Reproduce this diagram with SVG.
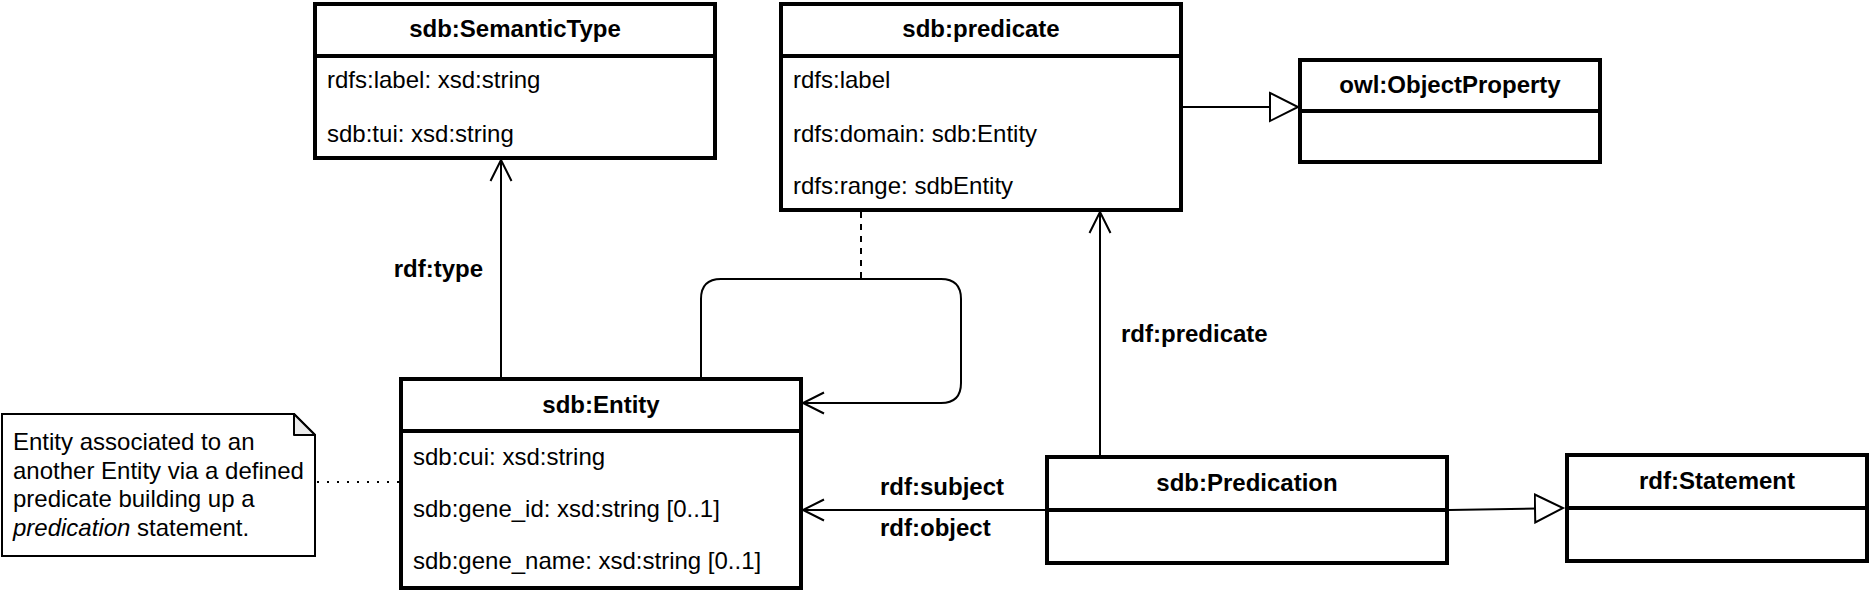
<svg xmlns="http://www.w3.org/2000/svg" width="1870" height="592" viewBox="0 0 1870 592">
<style>
.box{fill:#fff;stroke:#000;stroke-width:4}
.div{stroke:#000;stroke-width:4}
.hdr{font-family:"Liberation Sans",Arial,Helvetica,sans-serif;font-size:24px;font-weight:bold;text-anchor:middle;fill:#000}
.att{font-family:"Liberation Sans",Arial,Helvetica,sans-serif;font-size:24px;fill:#000}
.lbl{font-family:"Liberation Sans",Arial,Helvetica,sans-serif;font-size:24px;font-weight:bold;fill:#000}
.edge{fill:none;stroke:#000;stroke-width:2}
</style>
<defs>
<marker id="open" markerUnits="userSpaceOnUse" markerWidth="26" markerHeight="26" viewBox="0 0 26 26" refX="23" refY="13" orient="auto">
<path d="M2,2.5 L23,13 L2,23.5" fill="none" stroke="#000" stroke-width="2"/>
</marker>
<marker id="tri" markerUnits="userSpaceOnUse" markerWidth="32" markerHeight="32" viewBox="0 0 32 32" refX="29" refY="16" orient="auto">
<path d="M1,2 L29,16 L1,30 Z" fill="#fff" stroke="#000" stroke-width="2"/>
</marker>
</defs>

<g id="connectors">
<path class="edge" d="M501,377 V160" marker-end="url(#open)"/>
<path class="edge" d="M1100,455 V212" marker-end="url(#open)"/>
<path class="edge" d="M1045,510 H803" marker-end="url(#open)"/>
<path class="edge" d="M701,377 V299 Q701,279 721,279 H941 Q961,279 961,299 V383 Q961,403 941,403 H803" marker-end="url(#open)"/>
<path class="edge" d="M861,212 V279" stroke-dasharray="6 6"/>
<path class="edge" d="M1183,107 H1298" marker-end="url(#tri)"/>
<path class="edge" d="M1449,510 L1563,508" marker-end="url(#tri)"/>
<path class="edge" d="M317,482 H399" stroke-dasharray="2 8"/>
<text class="lbl" x="483" y="277" text-anchor="end">rdf:type</text>
<text class="lbl" x="1121" y="342">rdf:predicate</text>
<text class="lbl" x="880" y="495">rdf:subject</text>
<text class="lbl" x="880" y="536">rdf:object</text>
</g>

<g id="semantictype">
<rect class="box" x="315" y="4" width="400" height="154"/>
<line class="div" x1="315" y1="56" x2="715" y2="56"/>
<text class="hdr" x="515" y="37">sdb:SemanticType</text>
<text class="att" x="327" y="88">rdfs:label: xsd:string</text>
<text class="att" x="327" y="142">sdb:tui: xsd:string</text>
</g>

<g id="predicate">
<rect class="box" x="781" y="4" width="400" height="206"/>
<line class="div" x1="781" y1="56" x2="1181" y2="56"/>
<text class="hdr" x="981" y="37">sdb:predicate</text>
<text class="att" x="793" y="88">rdfs:label</text>
<text class="att" x="793" y="142">rdfs:domain: sdb:Entity</text>
<text class="att" x="793" y="194">rdfs:range: sdbEntity</text>
</g>

<g id="objectproperty">
<rect class="box" x="1300" y="60" width="300" height="102"/>
<line class="div" x1="1300" y1="111" x2="1600" y2="111"/>
<text class="hdr" x="1450" y="93">owl:ObjectProperty</text>
</g>

<g id="entity">
<rect class="box" x="401" y="379" width="400" height="209"/>
<line class="div" x1="401" y1="431" x2="801" y2="431"/>
<text class="hdr" x="601" y="413">sdb:Entity</text>
<text class="att" x="413" y="465">sdb:cui: xsd:string</text>
<text class="att" x="413" y="517">sdb:gene_id: xsd:string [0..1]</text>
<text class="att" x="413" y="569">sdb:gene_name: xsd:string [0..1]</text>
</g>

<g id="predication">
<rect class="box" x="1047" y="457" width="400" height="106"/>
<line class="div" x1="1047" y1="510" x2="1447" y2="510"/>
<text class="hdr" x="1247" y="491">sdb:Predication</text>
</g>

<g id="statement">
<rect class="box" x="1567" y="455" width="300" height="106"/>
<line class="div" x1="1567" y1="508" x2="1867" y2="508"/>
<text class="hdr" x="1717" y="489">rdf:Statement</text>
</g>

<g id="note">
<path d="M2,414 H294 L315,435 V556 H2 Z" fill="#fff" stroke="#000" stroke-width="2"/>
<path d="M294,414 V435 H315 Z" fill="#ebebeb" stroke="#000" stroke-width="2" stroke-linejoin="round"/>
<text class="att" x="13" y="450">Entity associated to an</text>
<text class="att" x="13" y="478.5">another Entity via a defined</text>
<text class="att" x="13" y="507">predicate building up a</text>
<text class="att" x="13" y="535.5"><tspan font-style="italic">predication</tspan> statement.</text>
</g>
</svg>
